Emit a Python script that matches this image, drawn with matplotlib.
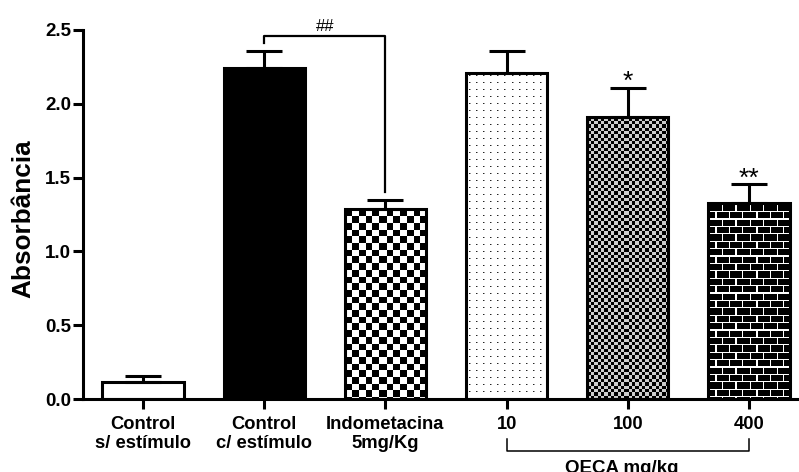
import numpy as np
import matplotlib
matplotlib.use('Agg')
import matplotlib.pyplot as plt

plt.rcParams['font.family'] = ['Liberation Sans', 'DejaVu Sans']

# Data
groups = ['Control\ns/ estímulo', 'Control\nc/ estímulo', 'Indometacina\n5mg/Kg',
          '10', '100', '400']
means = [0.115, 2.24, 1.285, 2.21, 1.91, 1.325]
errors = [0.04, 0.12, 0.065, 0.15, 0.20, 0.13]
fills = ['white', 'black', 'checker', 'dots', 'fine_checker', 'brick']
signif = {4: '*', 5: '**'}
yticks = [0.0, 0.5, 1.0, 1.5, 2.0, 2.5]


# Build a pixel pattern to fill a bar (matplotlib has no checker / brick hatch)
def make_pattern(kind, h, w):
    yy, xx = np.mgrid[0:h, 0:w]
    img = np.ones((h, w))
    if kind == 'checker':
        img = (((xx // 6.7).astype(int) + (yy // 6.7).astype(int)) % 2) * 1.0
    elif kind == 'fine_checker':
        img = (((xx // 3.35).astype(int) + (yy // 3.35).astype(int)) % 2) * 1.0
        img = np.where(img > 0, 0.8, 0.0)
    elif kind == 'dots':
        img[((xx % 7) == 3) & ((yy % 7) == 3)] = 0.15
        img[((xx % 7) == 4) & ((yy % 7) == 3)] = 0.6
    elif kind == 'brick':
        img = np.zeros((h, w))
        row = (yy // 7.4).astype(int)
        img[(yy % 7.4) < 1.3] = 1.0
        shift = np.where(row % 2 == 0, 0.0, 6.7)
        img[((xx + shift) % 13.4) < 1.3] = 1.0
    return img


def main():
    fig = plt.figure(figsize=(7.99, 4.72), dpi=100)
    ax = fig.add_axes([83 / 799, 73 / 472, 1 - 83 / 799, 369 / 472])

    x = np.arange(len(groups))
    ax.set_xlim(-0.495, 5.413)
    ax.set_ylim(0, 2.5)

    face = [f if f in ('white', 'black') else 'none' for f in fills]
    bars = ax.bar(x, means, width=0.67, color=face, edgecolor='black',
                  linewidth=2.2, zorder=2)

    # patterned fills, clipped to the bars
    for bar, kind in zip(bars, fills):
        if kind in ('white', 'black'):
            continue
        x0, x1 = bar.get_x(), bar.get_x() + bar.get_width()
        top = bar.get_height()
        p0 = ax.transData.transform((x0, 0))
        p1 = ax.transData.transform((x1, top))
        w = int(round(abs(p1[0] - p0[0])))
        h = int(round(abs(p1[1] - p0[1])))
        img = make_pattern(kind, h, w)
        im = ax.imshow(img, cmap='gray', vmin=0, vmax=1, extent=(x0, x1, 0, top),
                       aspect='auto', interpolation='nearest', zorder=1)
        im.set_clip_path(bar)

    ax.errorbar(x, means, yerr=[np.zeros(len(means)), errors], fmt='none',
                ecolor='black', elinewidth=2.2, capsize=13, capthick=2.2, zorder=3)

    for i, s in signif.items():
        ax.text(x[i], means[i] + errors[i] - 0.01, s, ha='center', va='baseline',
                fontsize=19, zorder=4)

    # ## bracket between control c/ estimulo and indometacina
    top = max(means[1] + errors[1], means[2] + errors[2]) + 0.10
    ax.plot([x[1], x[1], x[2], x[2]],
            [means[1] + errors[1] + 0.05, top, top, means[2] + errors[2] + 0.05],
            color='black', lw=1.6, clip_on=False, zorder=4)
    ax.text((x[1] + x[2]) / 2, top + 0.065, '##', ha='center', va='center',
            fontsize=12, clip_on=False)

    # OECA bracket below tick labels
    ax.plot([x[3], x[3], x[5], x[5]], [-0.271, -0.352, -0.352, -0.271],
            color='black', lw=1.1, clip_on=False)
    ax.text(x[4] - 0.05, -0.415, 'OECA mg/kg', ha='center', va='top',
            fontsize=13.5, fontweight='bold', clip_on=False)

    ax.set_xticks(x)
    ax.set_xticklabels(groups, fontsize=13.2, fontweight='bold')
    ax.set_yticks(yticks)
    ax.set_yticklabels([f'{v:.1f}' for v in yticks], fontsize=13.5, fontweight='bold')
    ax.tick_params(axis='both', direction='out', length=7, width=2.2)
    ax.tick_params(axis='x', pad=5)
    ax.tick_params(axis='y', pad=1.5)

    ax.set_ylabel('Absorbância', fontsize=18.8, fontweight='bold')
    ax.yaxis.set_label_coords(-0.066, 0.488)

    for side in ['top', 'right']:
        ax.spines[side].set_visible(False)
    for side in ['left', 'bottom']:
        ax.spines[side].set_linewidth(2.2)

    fig.savefig('out.png', dpi=100)


if __name__ == "__main__":
    main()
